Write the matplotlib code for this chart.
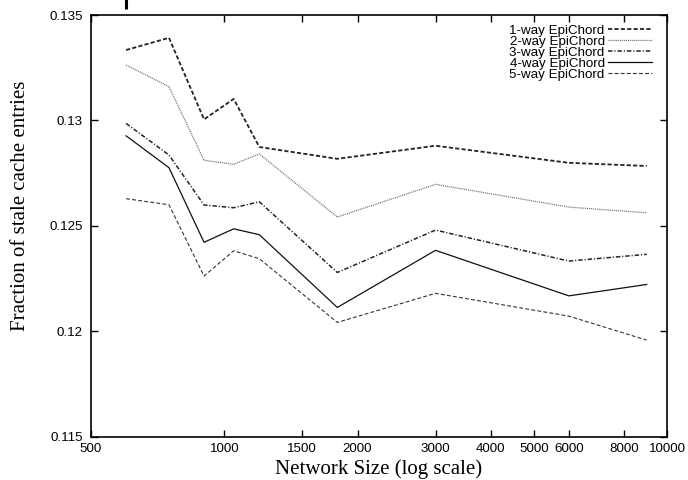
import matplotlib
matplotlib.use('Agg')
import matplotlib.pyplot as plt
from matplotlib.ticker import FixedLocator, NullLocator

plt.rcParams['lines.scale_dashes'] = False

# network sizes (x) and fraction of stale entries for each variant
sizes = [600, 750, 900, 1050, 1200, 1800, 3000, 6000, 9000]
way1 = [0.13334, 0.13392, 0.13005, 0.13102, 0.12874, 0.12818, 0.12880, 0.12799, 0.12784]
way2 = [0.13263, 0.13160, 0.12811, 0.12792, 0.12841, 0.12542, 0.12697, 0.12589, 0.12562]
way3 = [0.12986, 0.12836, 0.12599, 0.12586, 0.12614, 0.12279, 0.12480, 0.12333, 0.12365]
way4 = [0.12927, 0.12776, 0.12422, 0.12486, 0.12458, 0.12113, 0.12384, 0.12168, 0.12222]
way5 = [0.12629, 0.12600, 0.12262, 0.12382, 0.12344, 0.12042, 0.12180, 0.12072, 0.11958]
labels = ['1-way EpiChord', '2-way EpiChord', '3-way EpiChord', '4-way EpiChord', '5-way EpiChord']

xticks = [500, 1000, 1500, 2000, 3000, 4000, 5000, 6000, 8000, 10000]
yticks = [0.115, 0.12, 0.125, 0.13, 0.135]
ytick_labels = ['0.115', '0.12', '0.125', '0.13', '0.135']

fig = plt.figure(figsize=(6.88, 4.80), dpi=100)
ax = fig.add_axes([0.1323, 0.0902, 0.8372, 0.8785])

styles = [
    dict(color='#222222', lw=1.3, dashes=(3.0, 1.6)),
    dict(color='#666666', lw=0.9, dashes=(0.7, 0.7)),
    dict(color='#222222', lw=1.1, dashes=(3.2, 1.4, 0.8, 1.4)),
    dict(color='#111111', lw=0.9, ls='-'),
    dict(color='#333333', lw=0.8, dashes=(2.8, 1.6)),
]
for ys, lab, st in zip([way1, way2, way3, way4, way5], labels, styles):
    ax.plot(sizes, ys, label=lab, **st)

# small stray mark above the frame in the original
ax.plot([sizes[0], sizes[0]], [0.13528, 0.1358], color='black', lw=2.2,
        clip_on=False, solid_capstyle='butt')

ax.set_xscale('log')
ax.set_xlim(500, 10000)
ax.set_ylim(0.115, 0.135)
ax.xaxis.set_major_locator(FixedLocator(xticks))
ax.xaxis.set_minor_locator(NullLocator())
ax.set_xticklabels([str(v) for v in xticks])
ax.set_yticks(yticks)
ax.set_yticklabels(ytick_labels)

ax.tick_params(direction='in', length=5, width=1, top=True, right=True,
               labelsize=9.6, colors='black')
ax.tick_params(axis='y', pad=6)
ax.tick_params(axis='x', pad=4.5)
for lab in ax.get_xticklabels() + ax.get_yticklabels():
    lab.set_family('Liberation Sans')
for sp in ax.spines.values():
    sp.set_linewidth(1.2)

ax.set_xlabel('Network Size (log scale)', family='Liberation Serif', fontsize=15, labelpad=3)
ax.set_ylabel('Fraction of stale cache entries', family='Liberation Serif', fontsize=15)
ax.yaxis.set_label_coords(-0.106, 0.547)

leg = ax.legend(loc='upper right', frameon=False, markerfirst=False,
                prop={'family': 'Liberation Sans', 'size': 9.6},
                handlelength=3.3, handletextpad=0.25, labelspacing=-0.1,
                borderaxespad=0, borderpad=0, bbox_to_anchor=(0.974, 0.978))
for t in leg.get_texts():
    t.set_ha('right')

fig.savefig('out.png', dpi=100)
